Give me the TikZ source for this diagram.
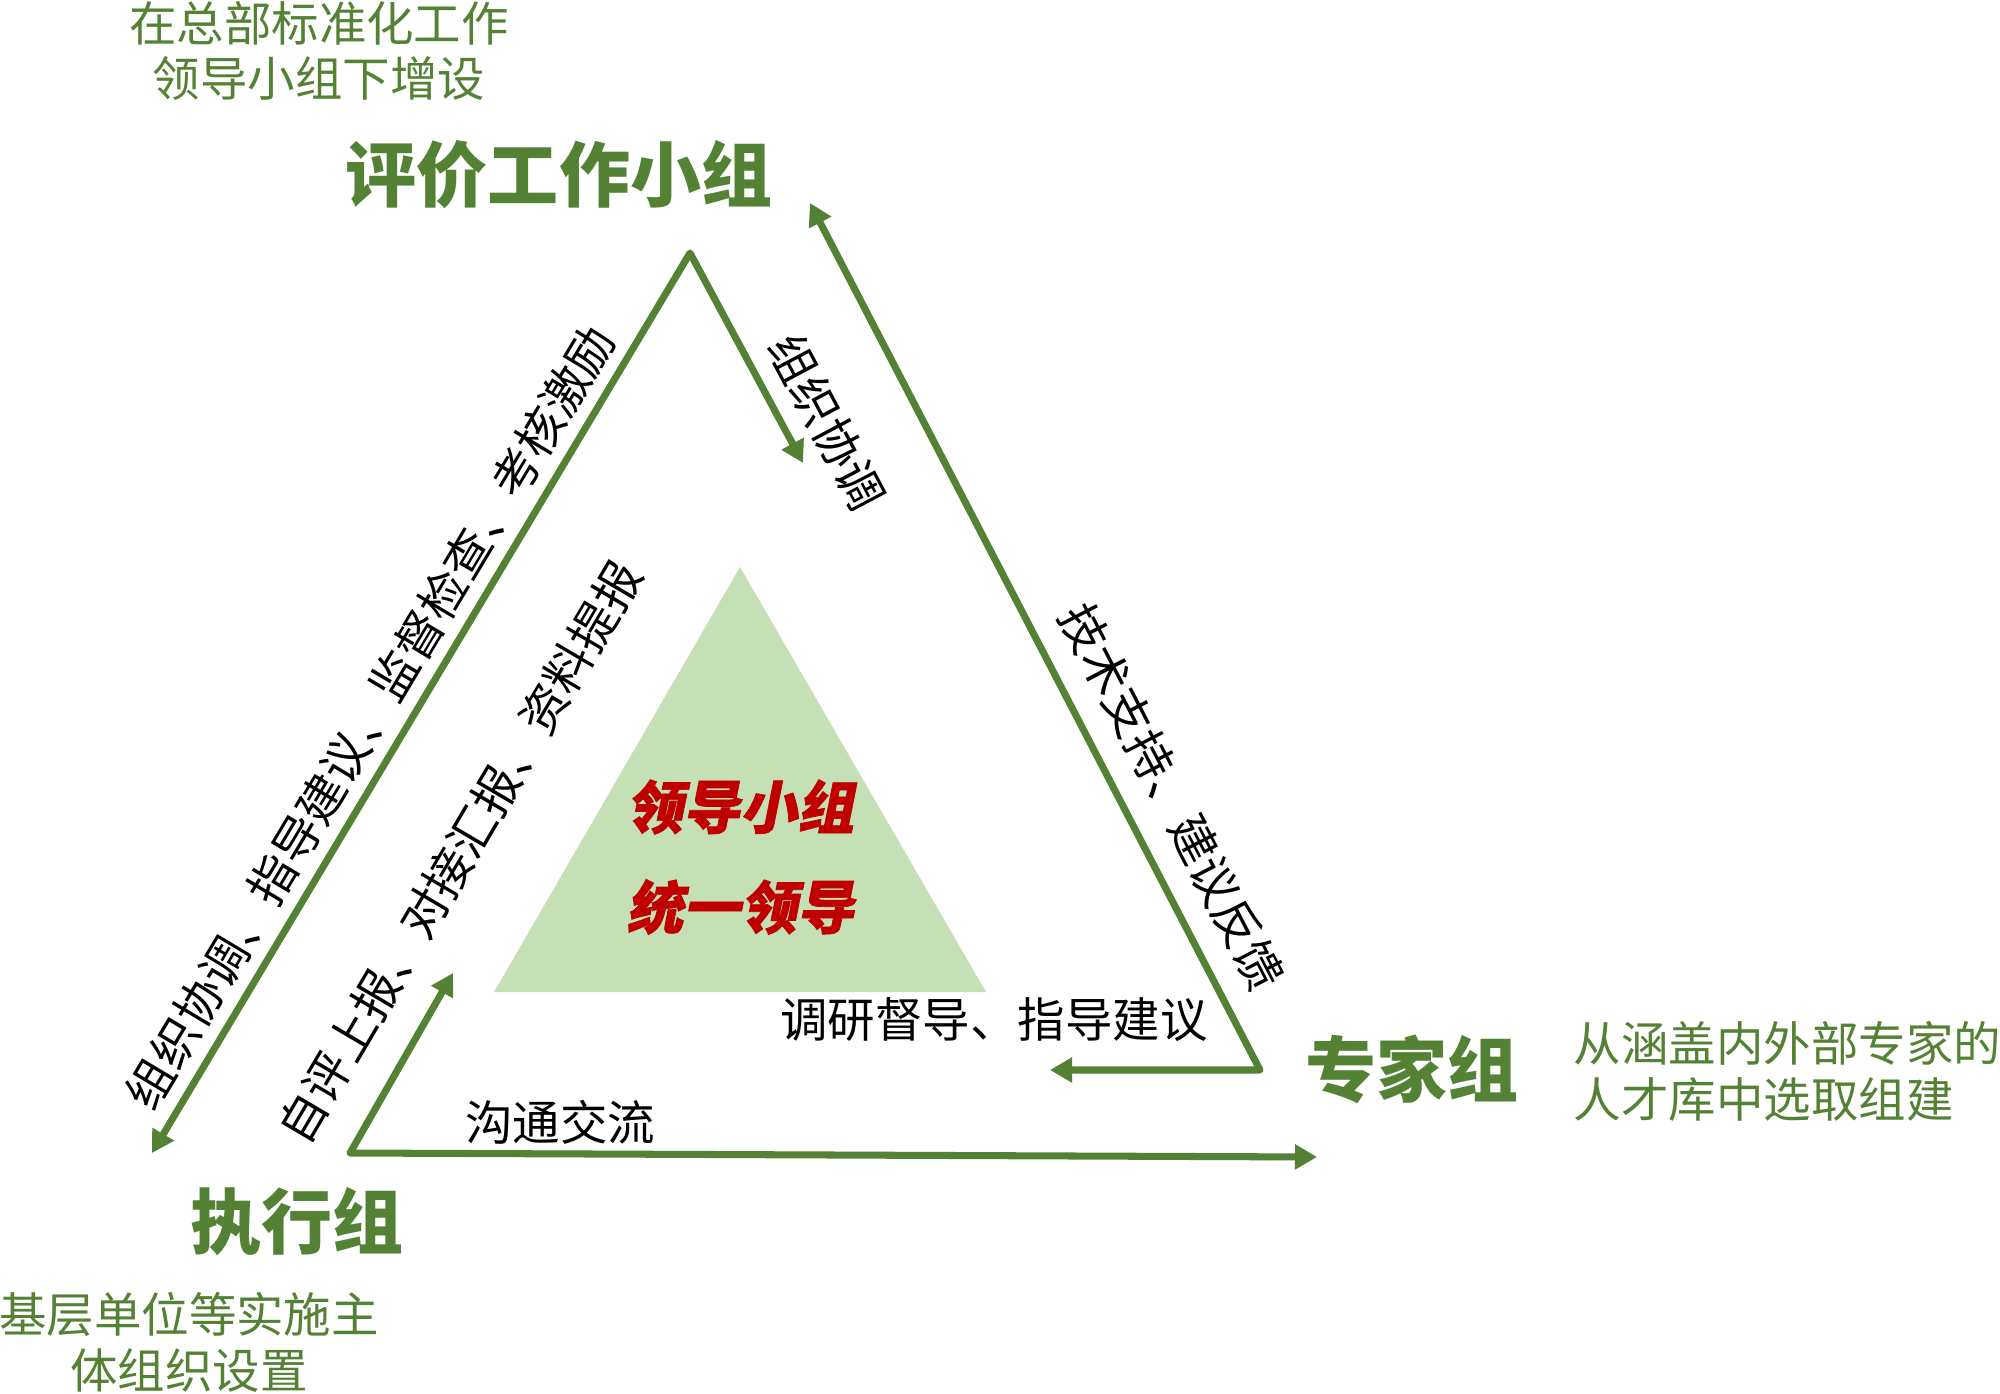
\documentclass[tikz,border=0pt]{standalone}
\usepackage{fontspec}
\setmainfont{Noto Sans CJK SC}
\newfontfamily\slantfont{Noto Sans CJK SC}[FakeSlant=0.2,FakeBold=1.2]
\usetikzlibrary{arrows.meta}
\definecolor{gline}{HTML}{548235}
\definecolor{gfill}{HTML}{C5E0B4}
\definecolor{rtext}{HTML}{C00000}
\begin{document}
\begin{tikzpicture}[x=0.01cm,y=-0.01cm,
  linkpath/.style={draw=gline,line width=2pt,line join=round,
    {Triangle[length=0.22cm,width=0.24cm]}-{Triangle[length=0.22cm,width=0.24cm]}},
  lab/.style={inner sep=0pt,text=black,font=\fontsize{13.5pt}{16pt}\selectfont},
  note/.style={inner sep=0pt,text=gline,align=center,font=\fontsize{13.5pt}{15.9pt}\selectfont},
  title/.style={inner sep=0pt,text=gline,font=\fontsize{20.2pt}{24pt}\selectfont\bfseries},
  lead/.style={inner sep=0pt,text=rtext,font=\fontsize{16.2pt}{19pt}\selectfont\slantfont\bfseries}
]
\useasboundingbox (0,0) rectangle (2000,1394);

% inner triangle
\fill[gfill] (740,567) -- (494,992) -- (986,992) -- cycle;
\node[lead] (lead1) at (740,807) {领导小组};
\node[lead] (lead2) at (740,907) {统一领导};

% key points
\coordinate (A) at (690,253);
\coordinate (Ltip) at (152,1153);
\coordinate (Atip) at (803,463);
\coordinate (C) at (1260,1070);
\coordinate (Ttip) at (810,203);
\coordinate (Ctip) at (1050,1070);
\coordinate (B) at (350,1153);
\coordinate (Btip) at (453,973);
\coordinate (Rtip) at (1317,1157);

\draw[linkpath] (Ltip) -- (A) -- (Atip);
\draw[linkpath] (Ttip) -- (C) -- (Ctip);
\draw[linkpath] (Btip) -- (B) -- (Rtip);

% titles
\node[title] (pj) at (559,175) {评价工作小组};
\node[title] (zx) at (297,1222) {执行组};
\node[title] (zj) at (1412,1069) {专家组};

% notes
\node[note] (n1) at (319,51) {在总部标准化工作\\领导小组下增设};
\node[note] (n2) at (189,1342) {基层单位等实施主\\体组织设置};
\node[note,align=left,anchor=west] (n3) at (1573,1071) {从涵盖内外部专家的\\人才库中选取组建};

% labels
\node[lab,rotate=59.1] (l1) at (370,717) {组织协调、指导建议、监督检查、考核激励};
\node[lab,rotate=59.5] (l2) at (460,852) {自评上报、对接汇报、资料提报};
\node[lab,rotate=-62] (l3) at (827,422) {组织协调};
\node[lab,rotate=-62.6] (l4) at (1172,797) {技术支持、建议反馈};
\node[lab] (l5) at (994,1020) {调研督导、指导建议};
\node[lab] (l6) at (560,1122) {沟通交流};
\end{tikzpicture}
\end{document}
